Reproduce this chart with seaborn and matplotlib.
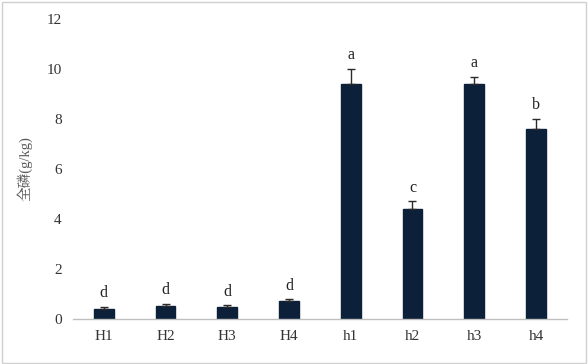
import pandas as pd
import numpy as np
import seaborn as sns
import matplotlib.pyplot as plt
from matplotlib.patches import Rectangle

groups = ["H1", "H2", "H3", "H4", "h1", "h2", "h3", "h4"]
tp = [0.38, 0.50, 0.49, 0.73, 9.40, 4.40, 9.40, 7.60]
err = [0.10, 0.11, 0.05, 0.05, 0.60, 0.30, 0.28, 0.40]
letters = ["d", "d", "d", "d", "a", "c", "a", "b"]

df = pd.DataFrame({"group": groups, "tp": tp})

sns.set_style("white")
plt.rcParams['font.family'] = ['Liberation Serif', 'Noto Serif CJK SC', 'Noto Sans CJK SC']

fig = plt.figure(figsize=(5.88, 3.64), dpi=100)
ax = fig.add_axes([0.124, 0.124, 0.840, 0.824])

barc = "#0c2039"
sns.barplot(data=df, x="group", y="tp", color=barc, width=0.32,
            saturation=1, errorbar=None, ax=ax, edgecolor=barc)
x = np.arange(len(groups))
ax.errorbar(x, tp, yerr=[np.zeros(len(tp)), err], fmt="none",
            ecolor="#2a2a2a", elinewidth=1.0, capsize=3, capthick=1.0)

for xi, v, e, l in zip(x, tp, err, letters):
    ax.text(xi, v + e + 0.55, l, ha="center", va="center",
            fontsize=11.5, color="#222222")

ax.set_ylim(0, 12)
ax.set_yticks(range(0, 13, 2))
ax.set_xlim(-0.5, len(groups) - 0.5)
ax.set_xlabel("")
ax.set_ylabel("全磷(g/kg)", fontsize=10.5, color="#595959", labelpad=10)
ax.tick_params(axis="both", length=0, labelsize=11, labelcolor="#333333", pad=8)
for s in ["top", "right", "left"]:
    ax.spines[s].set_visible(False)
ax.spines["bottom"].set_color("#bfbfbf")
ax.spines["bottom"].set_linewidth(1)

fig.patches.append(Rectangle((0.003, 0.004), 0.994, 0.99, transform=fig.transFigure,
                             fill=False, edgecolor="#d0d0d0", linewidth=1))

plt.savefig("out.png", dpi=100)
plt.close("all")
